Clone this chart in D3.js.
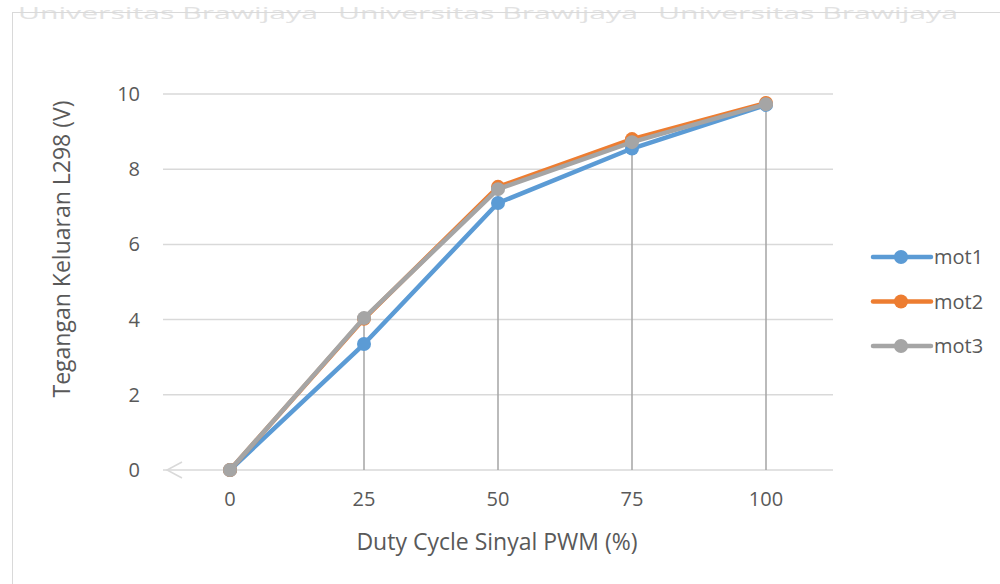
<!DOCTYPE html>
<html>
<head>
<meta charset="utf-8">
<script src="https://cdn.jsdelivr.net/npm/d3@7"></script>
<style>
  body { margin: 0; background: #fff; }
  text { font-family: "Open Sans", "Liberation Sans", sans-serif; fill: #595959; }
</style>
</head>
<body>
<svg id="chart" width="1000" height="584"></svg>
<script>
// values
const categories = ["0", "25", "50", "75", "100"];
const mot1 = [0, 3.35, 7.1, 8.55, 9.71];
const mot2 = [0, 4.02, 7.53, 8.8, 9.76];
const mot3 = [0, 4.04, 7.47, 8.72, 9.73];
const seriesNames = ["mot1", "mot2", "mot3"];
const colors = ["#5b9bd5", "#ed7d31", "#a5a5a5"];
const yTicks = [0, 2, 4, 6, 8, 10];
const watermark = ["Universitas Brawijaya", "Universitas Brawijaya", "Universitas Brawijaya"];

const series = [mot1, mot2, mot3].map((v, i) => ({ name: seriesNames[i], values: v, color: colors[i] }));

const svg = d3.select('#chart');
const margin = { left: 163, right: 167, top: 94, bottom: 114 };
const width = +svg.attr('width');
const height = +svg.attr('height');

// faint watermark + chart frame
svg.append('g')
  .selectAll('text')
  .data(watermark)
  .join('text')
  .attr('x', (d, i) => 18 + i * 320)
  .attr('y', 19)
  .attr('textLength', 300)
  .attr('lengthAdjust', 'spacingAndGlyphs')
  .style('font-size', '17px')
  .style('fill', '#e2e2e2')
  .text(d => d);
svg.append('rect')
  .attr('x', 12.5).attr('y', 12.5)
  .attr('width', 1000).attr('height', 600)
  .attr('fill', 'none')
  .attr('stroke', '#d9d9d9');

const x = d3.scaleBand()
  .domain(categories)
  .range([margin.left, width - margin.right]);
const y = d3.scaleLinear()
  .domain([0, 10])
  .range([height - margin.bottom, margin.top]);

const cx = d => x(d) + x.bandwidth() / 2;

// gridlines
svg.append('g')
  .selectAll('line')
  .data(yTicks)
  .join('line')
  .attr('x1', margin.left)
  .attr('x2', width - margin.right)
  .attr('y1', d => y(d))
  .attr('y2', d => y(d))
  .attr('stroke', '#d9d9d9')
  .attr('stroke-width', 1.5);

// y tick labels
svg.append('g')
  .selectAll('text')
  .data(yTicks)
  .join('text')
  .attr('x', 140)
  .attr('y', d => y(d) + 7)
  .attr('text-anchor', 'end')
  .style('font-size', '20px')
  .text(d => d);

// x tick labels
svg.append('g')
  .selectAll('text')
  .data(categories)
  .join('text')
  .attr('x', d => cx(d))
  .attr('y', 506)
  .attr('text-anchor', 'middle')
  .style('font-size', '20px')
  .text(d => d);

// small arrow artefact at axis start
svg.append('path')
  .attr('d', 'M182,462 L167,470 L182,478')
  .attr('fill', 'none')
  .attr('stroke', '#d9d9d9')
  .attr('stroke-width', 1.5);

// drop lines
svg.append('g')
  .selectAll('line')
  .data(categories)
  .join('line')
  .attr('x1', d => cx(d))
  .attr('x2', d => cx(d))
  .attr('y1', (d, i) => y(d3.max(series, s => s.values[i])))
  .attr('y2', y(0))
  .attr('stroke', '#a5a5a5')
  .attr('stroke-width', 1.5);

const line = d3.line()
  .x((d, i) => cx(categories[i]))
  .y(d => y(d));

const sg = svg.append('g')
  .selectAll('g')
  .data(series)
  .join('g');

sg.append('path')
  .attr('d', d => line(d.values))
  .attr('fill', 'none')
  .attr('stroke', d => d.color)
  .attr('stroke-width', 4.5)
  .attr('stroke-linejoin', 'round');

sg.each(function(s) {
  d3.select(this).selectAll('circle')
    .data(s.values)
    .join('circle')
    .attr('cx', (d, i) => cx(categories[i]))
    .attr('cy', d => y(d))
    .attr('r', 7)
    .attr('fill', s.color);
});

// axis titles
svg.append('text')
  .attr('x', 497)
  .attr('y', 550)
  .attr('text-anchor', 'middle')
  .style('font-size', '23px')
  .text('Duty Cycle Sinyal PWM (%)');

svg.append('text')
  .attr('transform', `translate(70, ${(margin.top + height - margin.bottom) / 2 - 33}) rotate(-90)`)
  .attr('text-anchor', 'middle')
  .style('font-size', '23px')
  .text('Tegangan Keluaran L298 (V)');

// legend
const legend = svg.append('g')
  .selectAll('g')
  .data(series)
  .join('g')
  .attr('transform', (d, i) => `translate(873, ${257 + i * 44.5})`);

legend.append('line')
  .attr('x1', 0).attr('x2', 58)
  .attr('stroke', d => d.color)
  .attr('stroke-width', 4.5)
  .attr('stroke-linecap', 'round');
legend.append('circle')
  .attr('cx', 28)
  .attr('r', 7)
  .attr('fill', d => d.color);
legend.append('text')
  .attr('x', 61)
  .attr('y', 7)
  .style('font-size', '20px')
  .text(d => d.name);
</script>
</body>
</html>
